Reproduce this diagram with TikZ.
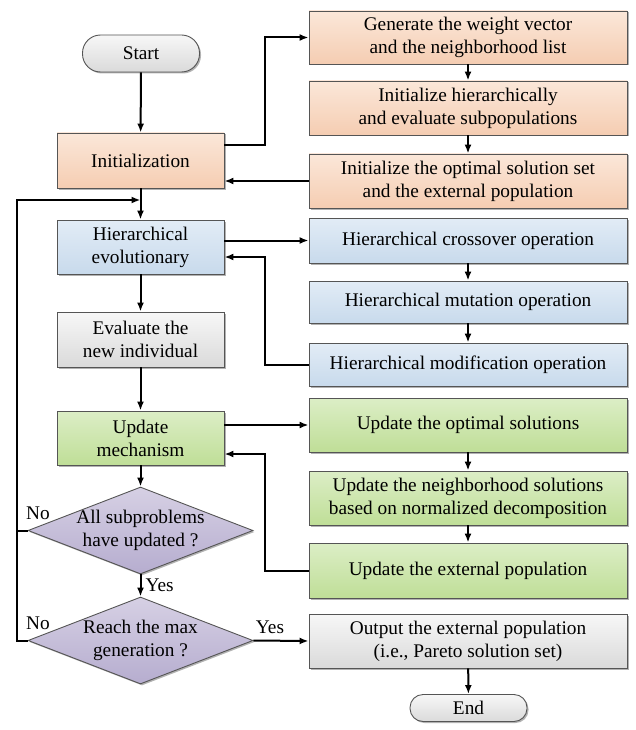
\documentclass[tikz,border=0pt]{standalone}
\usepackage{fontspec}
\setmainfont{Liberation Serif}
\usetikzlibrary{arrows.meta,calc,shapes.geometric,shadows}
\definecolor{orT}{HTML}{FBE7D9}
\definecolor{orB}{HTML}{F5CDB2}
\definecolor{blT}{HTML}{E2ECF6}
\definecolor{blB}{HTML}{C8DAEC}
\definecolor{grT}{HTML}{DCEEC6}
\definecolor{grB}{HTML}{BFDE97}
\definecolor{gyT}{HTML}{F7F7F7}
\definecolor{gyB}{HTML}{DADADA}
\definecolor{puT}{HTML}{D6D0E4}
\definecolor{puB}{HTML}{B6ADCF}
\definecolor{edge}{HTML}{555555}
\begin{document}
\begin{tikzpicture}[x=1pt,y=-1pt,
  font=\fontsize{19.3}{23}\selectfont,
  base/.style={draw=edge,line width=0.9pt,inner sep=0pt,align=center,
    drop shadow={shadow xshift=1.5pt,shadow yshift=-1.5pt,fill=black!30,opacity=1}},
  lbox/.style={base,minimum width=167pt},
  rbox/.style={base,minimum width=318pt},
  orbox/.style={top color=orT,bottom color=orB},
  blbox/.style={top color=blT,bottom color=blB},
  grbox/.style={top color=grT,bottom color=grB},
  gybox/.style={top color=gyT,bottom color=gyB},
  term/.style={base,rounded corners=13pt,top color=gyT,bottom color=gyB,minimum width=117pt},
  dia/.style={base,diamond,minimum width=225pt,minimum height=87pt,top color=puT,bottom color=puB},
  arr/.style={line width=2pt,-{Latex[length=9pt,width=7pt]}},
  ln/.style={line width=2pt},
  lab/.style={inner sep=0pt,align=center}]
\useasboundingbox (0,0) rectangle (635,730);
% left column
\node[term,minimum height=37pt,rounded corners=18pt] (start) at (141,53.5) {Start};
\node[lbox,orbox,minimum height=55pt] (init) at (140.5,160.5) {Initialization};
\node[lbox,blbox,minimum height=54pt] (hevo) at (140.5,247) {Hierarchical\\evolutionary};
\node[lbox,gybox,minimum height=55pt] (eval) at (140.5,339.5) {Evaluate the\\new individual};
\node[lbox,grbox,minimum height=54pt] (upd) at (140.5,438) {Update\\mechanism};
\node[dia] (d1) at (140.5,530.5) {};
\node[lab] at (d1) {All subproblems\\have updated ?};
\node[dia] (d2) at (140.5,640.5) {};
\node[lab] at (d2) {Reach the max\\generation ?};
% right column
\node[rbox,orbox,minimum height=53pt] (gen) at (468,37.5) {Generate the weight vector\\and the neighborhood list};
\node[rbox,orbox,minimum height=54pt] (inith) at (468,108) {Initialize hierarchically\\and evaluate subpopulations};
\node[rbox,orbox,minimum height=54pt] (initopt) at (468,181) {Initialize the optimal solution set\\and the external population};
\node[rbox,blbox,minimum height=45pt] (cross) at (468,240.5) {Hierarchical crossover operation};
\node[rbox,blbox,minimum height=42pt] (mut) at (468,302) {Hierarchical mutation operation};
\node[rbox,blbox,minimum height=43pt] (mod) at (468,364.5) {Hierarchical modification operation};
\node[rbox,grbox,minimum height=54pt] (uopt) at (468,425) {Update the optimal solutions};
\node[rbox,grbox,minimum height=54pt] (uneigh) at (468,498) {Update the neighborhood solutions\\based on normalized decomposition};
\node[rbox,grbox,minimum height=55pt] (uext) at (468,570.5) {Update the external population};
\node[rbox,gybox,minimum height=54pt] (out) at (468,641) {Output the external population\\(i.e., Pareto solution set)};
\node[term,minimum height=27pt] (end) at (468.5,708) {End};
% connectors
\draw[arr] (start) -- (init);
\draw[arr] ($(init.east)+(0,-15.5)$) -| ($(gen.west)+(-44,0)$) -- (gen.west);
\draw[arr] (gen) -- (inith);
\draw[arr] (inith) -- (initopt);
\draw[arr] (initopt.west) -- (initopt.west -| init.east);
\draw[arr] (init) -- (hevo);
\coordinate (j1) at (140.5,200);
\coordinate (lx) at (17,0);
\draw[arr] (d2.west) -- (d2.west -| lx) |- (j1);
\draw[ln] (d1.west) -- (d1.west -| lx);
\draw[arr] (cross.west -| hevo.east) -- (cross.west);
\draw[arr] (cross) -- (mut);
\draw[arr] (mut) -- (mod);
\draw[arr] (mod.west) -- ++(-44,0) |- ($(hevo.east)+(0,10)$);
\draw[arr] (hevo) -- (eval);
\draw[arr] (eval) -- (upd);
\draw[arr] (uopt.west -| upd.east) -- (uopt.west);
\draw[arr] (uopt) -- (uneigh);
\draw[arr] (uneigh) -- (uext);
\draw[arr] (uext.west) -- ++(-44,0) |- ($(upd.east)+(0,16)$);
\draw[arr] (upd) -- (d1);
\draw[arr] (d1) -- node[lab,right=4pt] {Yes} (d2);
\draw[arr] (d2.east) -- node[lab,above=6pt,pos=0.3] {Yes} (out.west);
\draw[arr] (out) -- (end);
\node[lab] (no1) at (38,513) {No};
\node[lab] (no2) at (38,623) {No};
\end{tikzpicture}
\end{document}
